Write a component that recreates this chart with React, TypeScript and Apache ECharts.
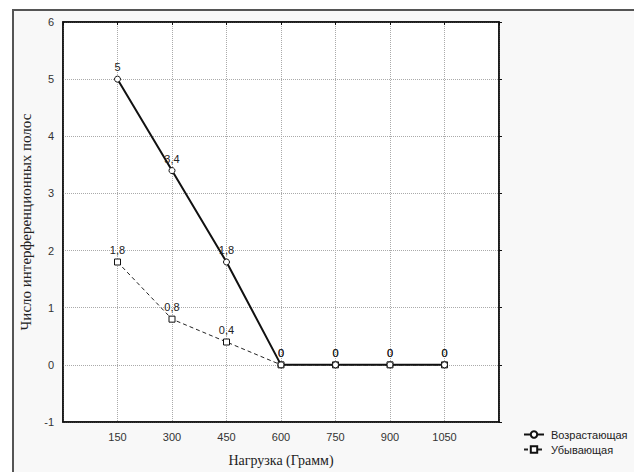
import React, { useEffect, useRef } from "react";
import * as echarts from "echarts";

const loads = [150, 300, 450, 600, 750, 900, 1050];
const increasing = [5, 3.4, 1.8, 0, 0, 0, 0];
const decreasing = [1.8, 0.8, 0.4, 0, 0, 0, 0];
const seriesNames = ["Возрастающая", "Убывающая"];
const xTitle = "Нагрузка (Грамм)";
const yTitle = "Число интерференционных полос";

const fmt = (v: number) => String(v).replace(".", ",");

export default function App() {
  const ref = useRef<HTMLDivElement>(null);
  useEffect(() => {
    document.body.style.margin = "0";
    const chart = echarts.init(ref.current!, null, { renderer: "svg" });
    const sans = "Liberation Sans, Arial, sans-serif";
    const serif = "Liberation Serif, Times New Roman, serif";
    const labelStyle = {
      show: true,
      position: "top" as const,
      distance: 3,
      fontSize: 11,
      fontFamily: sans,
      color: "#222",
      formatter: (p: any) => fmt(p.value[1]),
    };
    chart.setOption({
      animation: false,
      backgroundColor: "transparent",
      grid: {
        left: 63,
        top: 22,
        width: 436,
        height: 401,
        show: true,
        backgroundColor: "#ffffff",
        borderColor: "#111",
        borderWidth: 1.5,
      },
      legend: {
        orient: "vertical",
        left: 518,
        top: 424,
        itemGap: 4,
        itemWidth: 20,
        itemHeight: 8,
        textStyle: { fontSize: 11, fontFamily: sans, color: "#222", padding: [0, 0, 0, 2] },
        data: seriesNames,
      },
      xAxis: [
        {
          type: "value",
          min: 0,
          max: 1200,
          interval: 150,
          name: xTitle,
          nameLocation: "middle",
          nameGap: 31,
          nameTextStyle: { fontFamily: serif, fontSize: 14, color: "#222" },
          axisLine: { show: true, onZero: false, lineStyle: { color: "#111", width: 1.5 } },
          axisTick: { show: false },
          axisLabel: {
            fontSize: 11,
            fontFamily: sans,
            color: "#333",
            margin: 9,
            formatter: (v: number) => (v === 0 || v === 1200 ? "" : String(v)),
          },
          splitLine: { show: true, lineStyle: { color: "#aaa", type: "dotted", width: 1 } },
        },
        {
          type: "value",
          position: "top",
          min: 0,
          max: 1200,
          interval: 150,
          axisLine: { show: true, onZero: false, lineStyle: { color: "#111", width: 1.5 } },
          axisTick: { show: true, inside: true, length: 3, lineStyle: { color: "#111" } },
          axisLabel: { show: false },
          splitLine: { show: false },
        },
      ],
      yAxis: [
        {
          type: "value",
          min: -1,
          max: 6,
          interval: 1,
          name: yTitle,
          nameLocation: "middle",
          nameGap: 30,
          nameTextStyle: { fontFamily: serif, fontSize: 15, color: "#222" },
          axisLine: { show: true, onZero: false, lineStyle: { color: "#111", width: 1.5 } },
          axisTick: { show: false },
          axisLabel: { fontSize: 11, fontFamily: sans, color: "#333", margin: 9 },
          splitLine: { show: true, lineStyle: { color: "#aaa", type: "dotted", width: 1 } },
        },
        {
          type: "value",
          position: "right",
          min: -1,
          max: 6,
          interval: 1,
          axisLine: { show: true, onZero: false, lineStyle: { color: "#111", width: 1.5 } },
          axisTick: { show: true, length: 3, lineStyle: { color: "#111" } },
          axisLabel: { show: false },
          splitLine: { show: false },
        },
      ],
      series: [
        {
          name: seriesNames[1],
          type: "line",
          data: loads.map((x, i) => [x, decreasing[i]]),
          symbol: "rect",
          symbolSize: 6,
          itemStyle: { color: "#fff", borderColor: "#111", borderWidth: 1 },
          lineStyle: { color: "#222", width: 1, type: [4, 3] },
          label: labelStyle,
          z: 2,
        },
        {
          name: seriesNames[0],
          type: "line",
          data: loads.map((x, i) => [x, increasing[i]]),
          symbol: "circle",
          symbolSize: 6,
          itemStyle: { color: "#fff", borderColor: "#111", borderWidth: 1 },
          lineStyle: { color: "#111", width: 2 },
          label: labelStyle,
          z: 3,
        },
      ],
    });
    return () => chart.dispose();
  }, []);
  return (
    <div style={{ position: "relative", width: 634, height: 472, background: "#fff", overflow: "hidden" }}>
      <div
        style={{
          position: "absolute",
          left: 12,
          top: 9,
          width: 640,
          height: 480,
          border: "2px solid #555",
          background: "#f8f8f8",
        }}
      />
      <div ref={ref} style={{ position: "absolute", left: 0, top: 0, width: 634, height: 472 }} />
    </div>
  );
}
